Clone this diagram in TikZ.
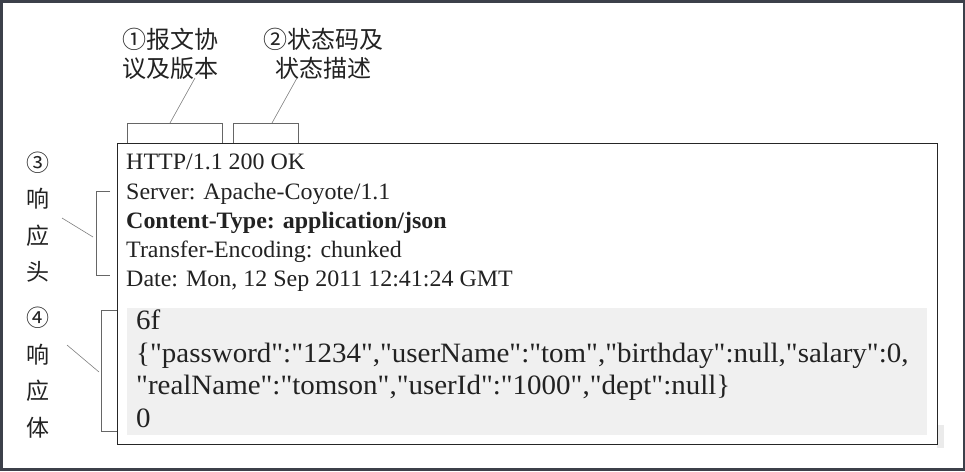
\documentclass[tikz,border=0pt]{standalone}
\usepackage{xcolor}
\usepackage{tikz}
\usepackage{fontspec}
\setmainfont{Liberation Serif}
\newfontfamily\resptext{Liberation Serif}[FakeStretch=1.02]
\newfontfamily\jsontext{Liberation Serif}[FakeStretch=1.035]
\newfontfamily\cjk{Noto Sans CJK SC}
\usetikzlibrary{positioning,calc}
\definecolor{framegray}{HTML}{3C404A}
\definecolor{bodygray}{HTML}{F0F0F0}
\definecolor{inkgray}{HTML}{222222}

\begin{document}
\begin{tikzpicture}[
  x=1pt, y=-1pt,
  toplbl/.style={align=center, inner sep=0, text=inkgray, font=\cjk\fontsize{24}{29}\selectfont},
  sidelbl/.style={align=center, inner sep=0, text=inkgray, font=\cjk\fontsize{23}{36.5}\selectfont},
  hdrtxt/.style={align=left, inner sep=0, anchor=north west, text=inkgray, font=\resptext\fontsize{23.5}{29.25}\selectfont},
  bodytxt/.style={align=left, inner sep=0, anchor=north west, text=inkgray, font=\jsontext\fontsize{28}{32.5}\selectfont},
  brk/.style={draw=black!60, line width=0.8pt},
  lead/.style={draw=black!50, line width=0.6pt}
]
  \useasboundingbox (0,0) rectangle (965,471);
  \fill[framegray] (0,0) rectangle (965,471);
  \fill[white] (3,3) rectangle (963,468);

  % response box
  \fill[black!8] (937,425) rectangle (944,448);
  \node[draw=black!85, line width=1.3pt, fill=white, inner sep=0, minimum width=820, minimum height=301, anchor=north west] (resp) at (117,143) {};
  \node[fill=bodygray, inner sep=0, minimum width=800, minimum height=127, anchor=north west] (bodybg) at (127,308) {};

  \node[hdrtxt] (hdr) at (126,154) {HTTP/1.1 200 OK\\
    Server: Apache-Coyote/1.1\\
    \textbf{Content-Type: application/json}\\
    Transfer-Encoding: chunked\\
    Date: Mon, 12 Sep 2011 12:41:24 GMT};
  \node[bodytxt] (bodyt) at (136,310) {6f\\
    \{"password":"1234","userName":"tom","birthday":null,"salary":0,\\
    "realName":"tomson","userId":"1000","dept":null\}\\
    0};

  % labels
  \node[toplbl] (ver) at (170,53.5) {①报文协\\议及版本};
  \node[toplbl] (stat) at (323,53.5) {②状态码及\\状态描述};
  \node[sidelbl] (head) at (38,217) {③\\响\\应\\头};
  \node[sidelbl] (body) at (38,372.5) {④\\响\\应\\体};

  % brackets
  \draw[brk] (127,143) |- (222,123) -- (222,143);
  \draw[brk] (233,143) |- (298,123) -- (298,143);
  \draw[brk] (110,191) -| (96,275) -- (110,275);
  \draw[brk] (117,310) -| (101,431) -- (117,431);

  % leaders
  \coordinate (verb) at (170,123);
  \coordinate (vere) at (195,78);
  \coordinate (statb) at (272,123);
  \coordinate (state) at (297,78);
  \coordinate (headb) at (93,237);
  \coordinate (heade) at (62,218);
  \coordinate (bodyb) at (99,372);
  \coordinate (bodye) at (67,345);
  \draw[lead] (verb) -- (vere);
  \draw[lead] (statb) -- (state);
  \draw[lead] (headb) -- (heade);
  \draw[lead] (bodyb) -- (bodye);
\end{tikzpicture}
\end{document}
